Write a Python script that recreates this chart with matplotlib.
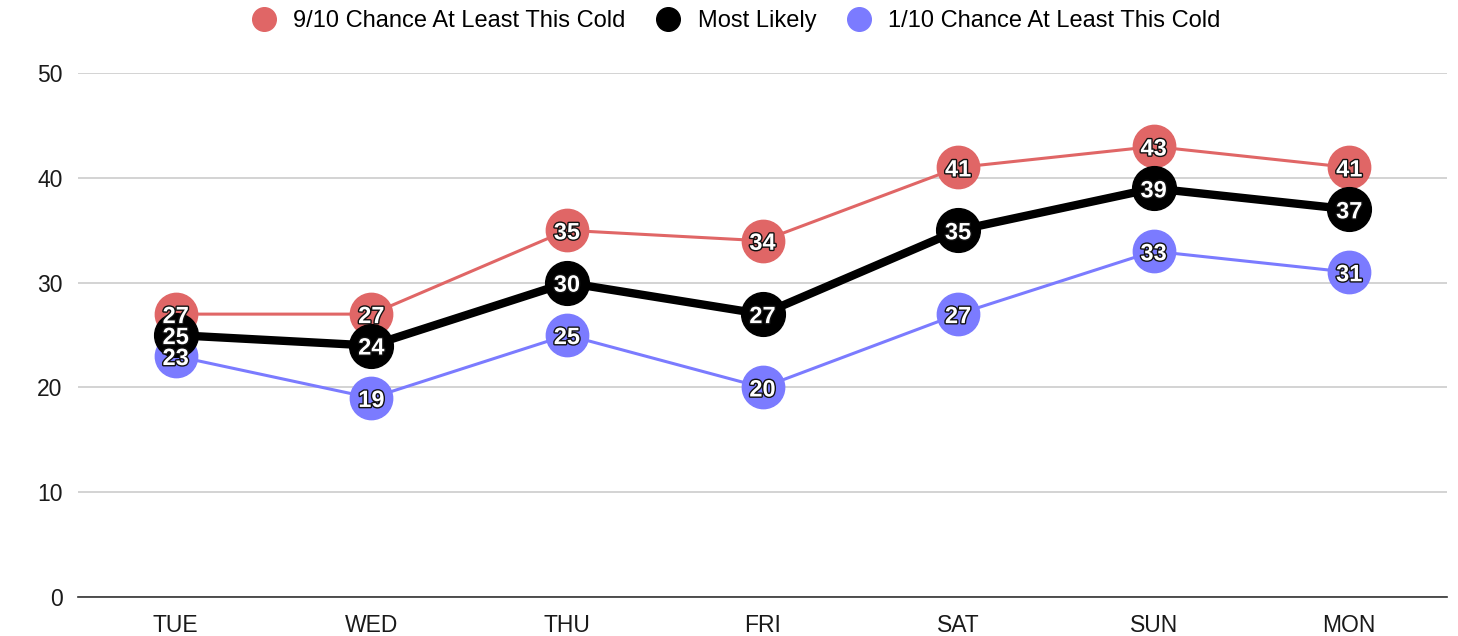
import matplotlib
matplotlib.use("Agg")
import matplotlib.pyplot as plt
import matplotlib.patheffects as pe
from matplotlib.lines import Line2D

days = ["TUE", "WED", "THU", "FRI", "SAT", "SUN", "MON"]
high_chance = [27, 27, 35, 34, 41, 43, 41]
most_likely = [25, 24, 30, 27, 35, 39, 37]
low_chance = [23, 19, 25, 20, 27, 33, 31]
series_names = ["9/10 Chance At Least This Cold", "Most Likely", "1/10 Chance At Least This Cold"]
yticks = [0, 10, 20, 30, 40, 50]

plt.rcParams['font.family'] = ['Liberation Sans', 'DejaVu Sans']

fig = plt.figure(figsize=(14.58, 6.36), dpi=100)
ax = fig.add_axes([0.0535, 0.0613, 0.939, 0.8237])

x = list(range(len(days)))
series = [
    (high_chance, "#e06666", 2.2, 30.5),
    (low_chance, "#7b7bff", 2.2, 30.5),
    (most_likely, "#000000", 6.0, 31.5),
]
for vals, col, lw, ms in series:
    ax.plot(x, vals, color=col, lw=lw, marker="o", markersize=ms,
            markerfacecolor=col, markeredgecolor=col, zorder=3, solid_capstyle="round")
    for xi, v in zip(x, vals):
        ax.text(xi, v, str(v), ha="center", va="center_baseline", color="white",
                fontsize=17, fontweight="bold", zorder=5,
                path_effects=[pe.withStroke(linewidth=2.0, foreground="#111111")])

ax.set_xlim(-0.5, 6.5)
ax.set_ylim(0, 50)
ax.set_yticks(yticks)
ax.set_xticks(x)
ax.set_xticklabels(days)
ax.tick_params(axis="both", length=0, labelsize=16.5, colors="#1a1a1a")
ax.tick_params(axis="x", pad=12)
ax.tick_params(axis="y", pad=11)
ax.grid(axis="y", color="#cccccc", lw=1.2)
ax.set_axisbelow(True)
for s in ["top", "right", "left"]:
    ax.spines[s].set_visible(False)
ax.spines["bottom"].set_color("#333333")
ax.spines["bottom"].set_linewidth(1.2)
ax.spines["bottom"].set_zorder(2)

handles = [Line2D([], [], ls="none", marker="o", markersize=17, color=c)
           for c in ["#e06666", "#000000", "#7b7bff"]]
fig.legend(handles, series_names, loc="center", bbox_to_anchor=(0.505, 1 - 21 / 636),
           ncol=3, frameon=False, fontsize=17, handletextpad=0.75, columnspacing=1.3,
           handlelength=1.0)

fig.savefig("out.png", dpi=100)
